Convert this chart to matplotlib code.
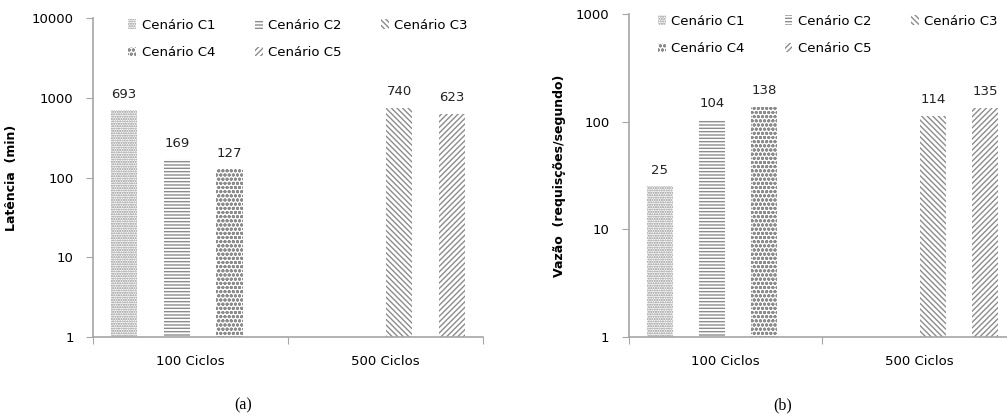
import matplotlib.pyplot as plt
from matplotlib.patches import Patch

plt.rcParams['font.family'] = 'DejaVu Sans'
plt.rcParams['hatch.linewidth'] = 1.0

groups = ['100 Ciclos', '500 Ciclos']
series = ['Cenário C1', 'Cenário C2', 'Cenário C3', 'Cenário C4', 'Cenário C5']

# valores por série: (grupo, valor)
lat = {
    'Cenário C1': [(0, 693)],
    'Cenário C2': [(0, 169)],
    'Cenário C3': [(1, 740)],
    'Cenário C4': [(0, 127)],
    'Cenário C5': [(1, 623)],
}
vaz = {
    'Cenário C1': [(0, 25)],
    'Cenário C2': [(0, 104)],
    'Cenário C3': [(1, 114)],
    'Cenário C4': [(0, 138)],
    'Cenário C5': [(1, 135)],
}

# estilo / posição de cada série dentro do grupo
offs = {'Cenário C1': -0.34, 'Cenário C2': -0.07, 'Cenário C3': 0.07,
        'Cenário C4': 0.20, 'Cenário C5': 0.34}
hatches = {'Cenário C1': '.......', 'Cenário C2': '-----',
           'Cenário C3': '\\' * 6, 'Cenário C4': 'oooo', 'Cenário C5': '/' * 6}
GRAY = '#8c8c8c'
AX = '#a6a6a6'
FS = 9.5


def draw(ax, data, ylabel, ymax, label_x, leg_x):
    for s in series:
        for g, v in data[s]:
            ax.bar(g + 0.5 + offs[s], v, width=0.135, bottom=0, color='white',
                   edgecolor=GRAY, linewidth=0, hatch=hatches[s])
            ax.annotate(str(v), (g + 0.5 + offs[s], v), xytext=(0, 7),
                        textcoords='offset points', ha='center', va='bottom',
                        fontsize=FS, color='#222222')
    ax.set_yscale('log')
    ax.set_ylim(1, ymax)
    ax.set_xlim(0, 2)
    ax.set_xticks([0, 1, 2])
    ax.set_xticklabels([])
    ax.set_xticks([0.5, 1.5], minor=True)
    ax.set_xticklabels(groups, minor=True)
    ax.tick_params(axis='x', which='major', length=5, color=AX, direction='out')
    ax.tick_params(axis='x', which='minor', length=0, pad=13, labelsize=FS)
    ax.tick_params(axis='y', which='major', length=5, color=AX, pad=9, labelsize=FS)
    ax.tick_params(axis='y', which='minor', length=0)
    ax.yaxis.set_major_formatter(plt.FuncFormatter(lambda v, p: f'{v:g}'))
    for sp in ['top', 'right']:
        ax.spines[sp].set_visible(False)
    for sp in ['left', 'bottom']:
        ax.spines[sp].set_color(AX)
        ax.spines[sp].set_linewidth(1.2)
    ax.set_ylabel(ylabel, fontsize=9, fontweight='bold')
    ax.yaxis.set_label_coords(label_x, 0.5)

    hs = [Patch(facecolor='white', edgecolor=GRAY, linewidth=0, hatch=hatches[s]) for s in series]
    order = [0, 3, 1, 4, 2]
    leg = ax.legend([hs[i] for i in order], [series[i] for i in order], ncol=3,
                    loc='upper left', bbox_to_anchor=(leg_x, 1.035), frameon=False,
                    fontsize=FS, handlelength=0.6, handleheight=0.7,
                    handletextpad=0.4, columnspacing=3.0, labelspacing=1.1)
    leg.set_clip_on(False)


fig = plt.figure(figsize=(10.07, 4.16), dpi=100)
ax1 = fig.add_axes([0.0924, 0.1899, 0.3873, 0.7668])
ax2 = fig.add_axes([0.6246, 0.1899, 0.3843, 0.7764])

draw(ax1, lat, 'Latência  (min)', 10000, -0.192, 0.06)
draw(ax2, vaz, 'Vazão  (requisções/segundo)', 1000, -0.163, 0.045)

fig.text(243 / 1007, 1 - 405 / 416, '(a)', ha='center', va='center',
         fontsize=11.5, family='Liberation Serif')
fig.text(783 / 1007, 1 - 405 / 416, '(b)', ha='center', va='center',
         fontsize=11.5, family='Liberation Serif')

fig.savefig('out.png', dpi=100)
